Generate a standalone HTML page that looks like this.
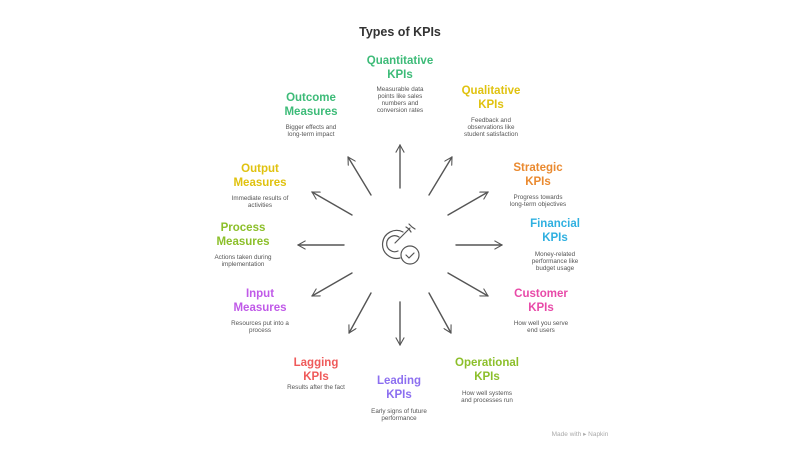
<!DOCTYPE html>
<html><head><meta charset="utf-8"><style>
body{margin:0;background:#fff;}
.w{position:relative;width:800px;height:450px;font-family:"Liberation Sans",sans-serif;overflow:hidden}
.t{position:absolute;transform:translateX(-50%);text-align:center;font-weight:bold;font-size:11.5px;line-height:13.5px;white-space:nowrap}
.d{position:absolute;transform:translateX(-50%);text-align:center;font-size:6.3px;line-height:7px;color:#555;white-space:nowrap}
</style></head><body><div class="w">
<div class="t" style="left:400px;top:26px;color:#333;font-size:12.5px">Types of KPIs</div>
<svg width="800" height="450" style="position:absolute;left:0;top:0" fill="none" stroke="#555" stroke-width="1.4" stroke-linecap="round" stroke-linejoin="round">
<defs><marker id="a" viewBox="0 0 10 10" refX="9" refY="5" markerWidth="9" markerHeight="9" markerUnits="userSpaceOnUse" orient="auto"><path d="M1 0.5L9 5L1 9.5" fill="none" stroke="#555" stroke-width="1.2"/></marker></defs>
<g marker-end="url(#a)">
<line x1="400" y1="188" x2="400" y2="145"/>
<line x1="429" y1="195" x2="452" y2="157"/>
<line x1="448" y1="215" x2="488" y2="192"/>
<line x1="456" y1="245" x2="502" y2="245"/>
<line x1="448" y1="273" x2="488" y2="296"/>
<line x1="429" y1="293" x2="451" y2="333"/>
<line x1="400" y1="302" x2="400" y2="345"/>
<line x1="371" y1="293" x2="349" y2="333"/>
<line x1="352" y1="273" x2="312" y2="296"/>
<line x1="344" y1="245" x2="298" y2="245"/>
<line x1="352" y1="215" x2="312" y2="192"/>
<line x1="371" y1="195" x2="348" y2="157"/>
</g>
<g stroke-width="1.2">
<path d="M403 232 A14 14 0 1 0 400 258"/>
<path d="M399 237 A8 8 0 1 0 398 251"/>
<circle cx="410" cy="255" r="9"/>
<path d="M406 255 l3 3 l5 -5"/>
<path d="M395 243 L410 228"/>
<path d="M406 227 L409 229 L411 232"/>
<path d="M409 224 L412 227 L415 229"/>
</g>
</svg>
<div class="t" style="left:400px;top:55px;color:#3dbb78">Quantitative<br>KPIs</div>
<div class="d" style="left:400px;top:86px">Measurable data<br>points like sales<br>numbers and<br>conversion rates</div>
<div class="t" style="left:491px;top:85px;color:#e0c20f">Qualitative<br>KPIs</div>
<div class="d" style="left:491px;top:117px">Feedback and<br>observations like<br>student satisfaction</div>
<div class="t" style="left:538px;top:162px;color:#ea8a30">Strategic<br>KPIs</div>
<div class="d" style="left:538px;top:194px">Progress towards<br>long-term objectives</div>
<div class="t" style="left:555px;top:218px;color:#2fb0e0">Financial<br>KPIs</div>
<div class="d" style="left:555px;top:251px">Money-related<br>performance like<br>budget usage</div>
<div class="t" style="left:541px;top:288px;color:#e84aa8">Customer<br>KPIs</div>
<div class="d" style="left:541px;top:320px">How well you serve<br>end users</div>
<div class="t" style="left:487px;top:357px;color:#8cbf2a">Operational<br>KPIs</div>
<div class="d" style="left:487px;top:390px">How well systems<br>and processes run</div>
<div class="t" style="left:399px;top:375px;color:#8c6ff0">Leading<br>KPIs</div>
<div class="d" style="left:399px;top:408px">Early signs of future<br>performance</div>
<div class="t" style="left:316px;top:357px;color:#ef5a5a">Lagging<br>KPIs</div>
<div class="d" style="left:316px;top:384px">Results after the fact</div>
<div class="t" style="left:260px;top:288px;color:#c05ae8">Input<br>Measures</div>
<div class="d" style="left:260px;top:320px">Resources put into a<br>process</div>
<div class="t" style="left:243px;top:222px;color:#8cbf2a">Process<br>Measures</div>
<div class="d" style="left:243px;top:254px">Actions taken during<br>implementation</div>
<div class="t" style="left:260px;top:163px;color:#e0c20f">Output<br>Measures</div>
<div class="d" style="left:260px;top:195px">Immediate results of<br>activities</div>
<div class="t" style="left:311px;top:92px;color:#3dbb78">Outcome<br>Measures</div>
<div class="d" style="left:311px;top:124px">Bigger effects and<br>long-term impact</div>
<div class="d" style="left:580px;top:431px;color:#aaa;font-size:6.5px">Made with ▸ Napkin</div>
</div></body></html>
